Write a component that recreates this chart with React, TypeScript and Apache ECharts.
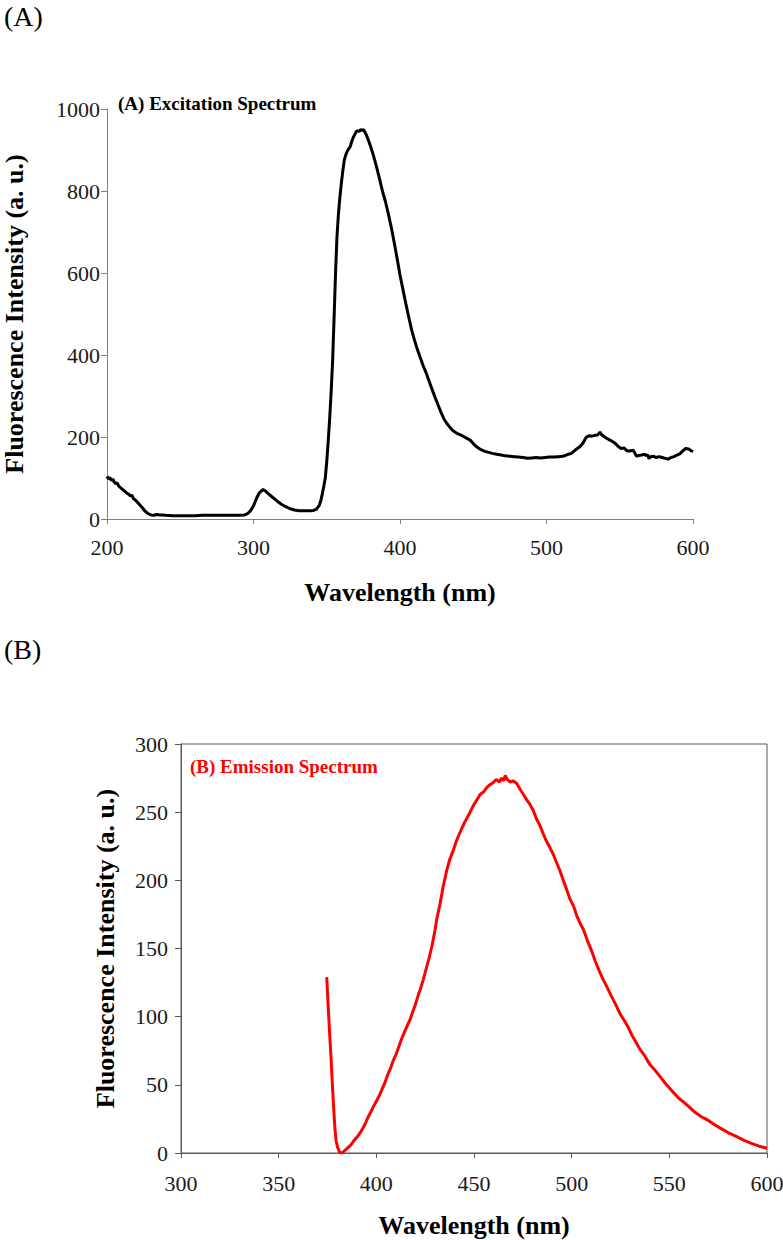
import React, { useEffect, useRef } from "react";
import * as echarts from "echarts";

const SERIF = "'Liberation Serif', 'Times New Roman', serif";

// (A) excitation spectrum: [wavelength nm, intensity a.u.]
const excitation: [number, number][] = [
  [200, 104], [201, 98], [202, 101], [203, 94], [204, 97], [205, 90], [206, 86], [207, 88],
  [208, 80], [209, 77], [210, 74], [212, 68], [214, 62], [215, 60], [216, 56], [217, 58],
  [218, 50], [220, 44], [222, 36], [224, 28], [226, 19], [228, 13], [230, 10], [232, 9],
  [234, 11], [236, 10], [238, 10], [240, 9], [245, 8], [250, 8], [255, 8], [260, 8],
  [265, 9], [270, 9], [275, 9], [280, 9], [285, 9], [290, 9], [294, 10], [296, 13],
  [298, 20], [300, 32], [302, 50], [304, 64], [306.5, 72], [308, 69], [310, 62], [313, 53],
  [316, 44], [319, 36], [322, 30], [325, 25], [328, 22], [331, 20], [335, 20], [339, 20],
  [341, 21], [343, 24], [345, 34], [346, 45], [347, 62], [348, 80], [349, 100], [350, 140],
  [351, 190], [352, 245], [353, 310], [354, 385], [355, 490], [356, 600], [357, 690], [358, 745],
  [359, 786], [360, 820], [361, 850], [362, 876], [363, 888], [364, 897], [365, 903], [366, 908],
  [367, 920], [368, 930], [369, 937], [370, 944], [371, 947], [372, 945], [373, 950], [374, 948],
  [375, 950], [376, 944], [377, 937], [378, 928], [380, 908], [382, 885], [384, 859], [386, 830],
  [388, 800], [390, 775], [392, 745], [394, 712], [396, 675], [398, 636], [400, 595], [402, 560],
  [404, 525], [406, 492], [408, 460], [410, 435], [412, 412], [414, 392], [416, 372], [418, 355],
  [420, 335], [422, 315], [424, 296], [426, 278], [428, 260], [430, 244], [432, 233], [434, 224],
  [436, 216], [438, 211], [440, 207], [442, 204], [444, 200], [446, 196], [448, 192], [450, 184],
  [452, 177], [454, 172], [456, 168], [458, 165], [460, 163], [463, 160], [466, 158], [469, 156],
  [472, 154], [475, 153], [478, 152], [481, 151], [484, 150], [487, 148], [490, 149], [493, 150],
  [496, 149], [499, 150], [502, 151], [505, 151], [508, 152], [511, 153], [513, 155], [515, 158],
  [517, 160], [519, 166], [521, 172], [523, 177], [525, 186], [527, 199], [529, 203], [531, 202],
  [533, 204], [535, 205], [536.5, 212], [537.5, 206], [539, 202], [541, 197], [543, 193], [545, 189],
  [547, 184], [549, 177], [551, 172], [553, 173], [555, 166], [557, 166], [559, 168], [560, 163],
  [561.5, 153], [563, 155], [565, 156], [567, 158], [568, 154], [569, 157], [570, 147], [571, 152],
  [573, 153], [575, 150], [577, 152], [579, 150], [581, 148], [583, 146], [585, 150], [587, 152],
  [589, 156], [591, 159], [593, 166], [595, 172], [597, 171], [599, 166], [600, 164],
];

// (B) emission spectrum: [wavelength nm, intensity a.u.]
const emission: [number, number][] = [
  [374.6, 129], [375.2, 112], [376, 90], [376.8, 70], [377.5, 50], [378.2, 32], [378.8, 18],
  [379.4, 9], [380.2, 4], [381.2, 0.5], [382.5, 0], [384, 2], [385.5, 4], [387, 6], [388.5, 9],
  [390, 11.5], [391.6, 14.5], [393, 18], [394.5, 22], [396, 27], [397.5, 31], [398.5, 34], [400, 38],
  [401.5, 42], [403, 47], [404.5, 52], [406, 58], [407.5, 63], [408.7, 68], [410, 72], [411.5, 78],
  [413, 84], [414.5, 89], [416, 94], [417.3, 98], [418.5, 103], [420, 109], [421.5, 116], [422.5, 120],
  [424, 127], [425.5, 135], [427, 143], [428.5, 152], [430, 163], [431, 172], [432.5, 182], [434.3, 196],
  [436, 207], [437.5, 215], [439.4, 222], [441, 229], [442.5, 234], [443.7, 238], [445, 242], [446.5, 246],
  [448, 250], [449.7, 255], [451.5, 259], [453.1, 263], [455, 265], [456.5, 268], [458, 270], [460, 272],
  [461.6, 274], [463, 272], [464, 275], [465.2, 273], [466, 277], [467, 274], [468.5, 272], [470, 273],
  [471.9, 271], [473.5, 267], [475.3, 263], [477, 259], [478.5, 256], [480.4, 251], [482, 245], [483.5, 241],
  [485.5, 234], [487, 229], [488.5, 225], [490.6, 219], [492, 214], [494, 207], [495.7, 200], [497.5, 193],
  [499.2, 186], [501, 181], [502.6, 174], [504.5, 168], [506, 164], [508, 156], [510, 149], [512, 141],
  [514, 134], [516.2, 127], [518, 122], [520, 116], [522.5, 109], [524.8, 102], [527, 97], [529, 92],
  [531, 86], [533, 81], [535, 76], [537.5, 71], [540, 65], [542.5, 61], [545.3, 56], [548, 51],
  [550.5, 47], [553, 43], [555, 40], [557.2, 37.5], [560, 34], [563, 30], [566, 27], [568.5, 25],
  [570.9, 23], [574, 20], [577, 17.5], [580, 15], [584.5, 12], [588, 9.5], [592, 7], [596, 5], [600, 3.5],
];

const xTicksA = { min: 200, max: 600, interval: 100 };
const yTicksA = { min: 0, max: 1000, interval: 200 };
const xTicksB = { min: 300, max: 600, interval: 50 };
const yTicksB = { min: 0, max: 300, interval: 50 };

const axisTitle = "Wavelength (nm)";
const yTitle = "Fluorescence Intensity (a. u.)";

type Ticks = { min: number; max: number; interval: number };

export default function App() {
  const ref = useRef<HTMLDivElement>(null);

  useEffect(() => {
    if (!ref.current) return;
    const chart = echarts.init(ref.current, undefined, { renderer: "svg" });

    const labelStyle = {
      fontFamily: SERIF,
      fontSize: 22,
      color: "#1a1a1a",
      formatter: (v: number) => String(v),
    };
    const nameStyle = { fontFamily: SERIF, fontSize: 26, fontWeight: "bold" as const, color: "#000" };

    const axisX = (idx: number, t: Ticks, lineColor: string, labelMargin: number, nameGap: number) => ({
      type: "value" as const,
      gridIndex: idx,
      min: t.min,
      max: t.max,
      interval: t.interval,
      name: axisTitle,
      nameLocation: "middle" as const,
      nameGap,
      nameTextStyle: nameStyle,
      axisLine: { show: true, onZero: false, lineStyle: { color: lineColor, width: 1 } },
      axisTick: { show: true, inside: false, length: 5, lineStyle: { color: lineColor } },
      axisLabel: { ...labelStyle, margin: labelMargin },
      splitLine: { show: false },
    });

    const axisY = (idx: number, t: Ticks, lineColor: string, labelMargin: number, nameGap: number) => ({
      type: "value" as const,
      gridIndex: idx,
      min: t.min,
      max: t.max,
      interval: t.interval,
      name: yTitle,
      nameLocation: "middle" as const,
      nameGap,
      nameTextStyle: nameStyle,
      axisLine: { show: true, onZero: false, lineStyle: { color: lineColor, width: 1 } },
      axisTick: { show: true, inside: false, length: 6, lineStyle: { color: lineColor } },
      axisLabel: { ...labelStyle, margin: labelMargin },
      splitLine: { show: false },
    });

    chart.setOption({
      animation: false,
      backgroundColor: "#ffffff",
      title: [
        { text: "(A)", left: -1, top: -3, textStyle: { fontFamily: SERIF, fontSize: 28, fontWeight: "normal", color: "#000" } },
        { text: "(B)", left: -1, top: 630, textStyle: { fontFamily: SERIF, fontSize: 28, fontWeight: "normal", color: "#000" } },
        { text: "(A) Excitation Spectrum", left: 118, top: 94, padding: 0, textStyle: { fontFamily: SERIF, fontSize: 19, fontWeight: "bold", color: "#000" } },
        { text: "(B) Emission Spectrum", left: 190, top: 757, padding: 0, textStyle: { fontFamily: SERIF, fontSize: 19, fontWeight: "bold", color: "#ff0000" } },
      ],
      grid: [
        { left: 107, top: 109, width: 586, height: 410, containLabel: false, outerBoundsMode: "none" },
        {
          left: 181, top: 744, width: 586, height: 409, containLabel: false, outerBoundsMode: "none",
          show: true, borderColor: "#595959", borderWidth: 1, backgroundColor: "transparent",
        },
      ],
      xAxis: [
        axisX(0, xTicksA, "#808080", 17, 60),
        axisX(1, xTicksB, "#595959", 19, 59),
      ],
      yAxis: [
        axisY(0, yTicksA, "#808080", 7, 80),
        axisY(1, yTicksB, "#595959", 13, 63),
      ],
      series: [
        {
          type: "line",
          name: "Excitation",
          xAxisIndex: 0,
          yAxisIndex: 0,
          data: excitation,
          showSymbol: false,
          lineStyle: { color: "#000000", width: 3 },
          itemStyle: { color: "#000000" },
        },
        {
          type: "line",
          name: "Emission",
          xAxisIndex: 1,
          yAxisIndex: 1,
          data: emission,
          showSymbol: false,
          lineStyle: { color: "#ff0000", width: 3 },
          itemStyle: { color: "#ff0000" },
        },
      ],
    });

    return () => chart.dispose();
  }, []);

  return <div ref={ref} style={{ position: "absolute", left: 0, top: 0, width: 783, height: 1240 }} />;
}
